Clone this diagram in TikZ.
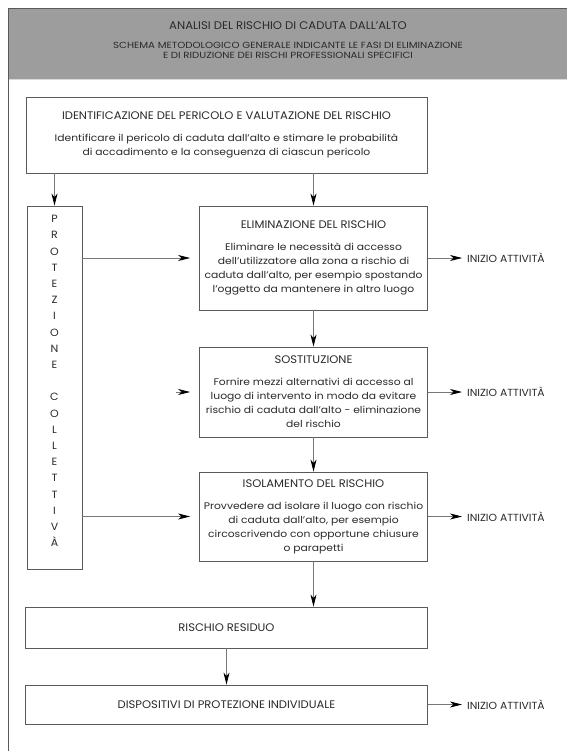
\documentclass[tikz,border=0pt]{standalone}
\usepackage{fontspec}
\setmainfont{Poppins}
\newfontfamily\bodyf{Poppins}[FakeStretch=1.12]
\newfontfamily\capf{Poppins}[FakeStretch=1.05]
\newfontfamily\subf{Poppins}[FakeStretch=1.15]
\usetikzlibrary{arrows.meta}
\definecolor{hdrfill}{HTML}{9D9D9D}
\definecolor{boxc}{HTML}{5A5A5A}
\definecolor{linec}{HTML}{777777}
\definecolor{txt}{HTML}{2A2A2A}
\newcommand{\boxtitle}[1]{{\capf\fontsize{11}{14}\selectfont #1}}
\begin{document}
\begin{tikzpicture}[x=1pt,y=-1pt,
  box/.style={draw=boxc, line width=0.9pt, inner sep=0pt, align=center, text=txt, font=\bodyf\fontsize{9.6}{14}\selectfont},
  capbox/.style={box, font=\capf\fontsize{11}{14}\selectfont},
  conn/.style={draw=linec, line width=0.8pt, -{Stealth[length=12pt,width=6pt,inset=3.5pt,black]}},
  inizio/.style={anchor=west, inner sep=0pt, text=txt, font=\capf\fontsize{10.3}{12}\selectfont},
  hdrtxt/.style={text=txt, inner sep=0pt, align=center}]
\useasboundingbox (0,0) rectangle (567,751);
\fill[white] (0,0) rectangle (567,751);
% header
\fill[hdrfill] (8,8) rectangle (567,79);
\draw[boxc, line width=1.2pt] (8,8.6) -- (567,8.6);
\draw[white!85!black, line width=0.8pt] (8,79) -- (567,79);
\draw[boxc, line width=1pt] (8.5,8) -- (8.5,751);
\node[hdrtxt, font=\capf\fontsize{11.1}{13}\selectfont] (htitle) at (288,25.5) {ANALISI DEL RISCHIO DI CADUTA DALL’ALTO};
\node[hdrtxt, font=\subf\fontsize{8.9}{10}\selectfont] (hsub) at (288,50.5) {SCHEMA METODOLOGICO GENERALE INDICANTE LE FASI DI ELIMINAZIONE\\E DI RIDUZIONE DEI RISCHI PROFESSIONALI SPECIFICI};
% boxes
\node[box, minimum width=401pt, minimum height=76pt] (ident) at (226.5,135)
  {\boxtitle{IDENTIFICAZIONE DEL PERICOLO E VALUTAZIONE DEL RISCHIO}\\[8pt]
   Identificare il pericolo di caduta dall’alto e stimare le probabilità\\
   di accadimento e la conseguenza di ciascun pericolo};
\node[box, minimum width=55pt, minimum height=363pt] (prot) at (54.5,387.5) {};
\node[text=txt, inner sep=0pt, align=center, font=\capf\fontsize{10.5}{16.2}\selectfont] (protlab) at (54.5,381)
  {P\\R\\O\\T\\E\\Z\\I\\O\\N\\E\\[16.2pt]C\\O\\L\\L\\E\\T\\T\\I\\V\\À};
\node[box, minimum width=228pt, minimum height=104pt] (elim) at (313.5,258)
  {\boxtitle{ELIMINAZIONE DEL RISCHIO}\\[8pt]
   Eliminare le necessità di accesso\\
   dell’utilizzatore alla zona a rischio di\\
   caduta dall’alto, per esempio spostando\\
   l’oggetto da mantenere in altro luogo};
\node[box, minimum width=228pt, minimum height=90pt] (sost) at (313.5,392)
  {\boxtitle{SOSTITUZIONE}\\[8pt]
   Fornire mezzi alternativi di accesso al\\
   luogo di intervento in modo da evitare\\
   rischio di caduta dall’alto - eliminazione\\
   del rischio};
\node[box, minimum width=228pt, minimum height=89pt] (isol) at (313.5,516.5)
  {\boxtitle{ISOLAMENTO DEL RISCHIO}\\[8pt]
   Provvedere ad isolare il luogo con rischio\\
   di caduta dall’alto, per esempio\\
   circoscrivendo con opportune chiusure\\
   o parapetti};
\node[capbox, minimum width=402pt, minimum height=41pt] (resid) at (226.5,627.5)
  {RISCHIO RESIDUO};
\node[capbox, minimum width=402pt, minimum height=39pt] (dpi) at (226.5,704.5)
  {DISPOSITIVI DI PROTEZIONE INDIVIDUALE};
% INIZIO ATTIVITA labels
\node[inizio] (i1) at (467,258) {INIZIO ATTIVITÀ};
\node[inizio] (i2) at (467,392) {INIZIO ATTIVITÀ};
\node[inizio] (i3) at (467,516.5) {INIZIO ATTIVITÀ};
\node[inizio] (i4) at (467,704.5) {INIZIO ATTIVITÀ};
\coordinate (sostin) at (176,392);
% connectors
\draw[conn] (ident.south -| prot.north) -- (prot.north);
\draw[conn] (ident.south -| elim.north) -- (elim.north);
\draw[conn, shorten >=9pt] (prot.east |- elim.west) -- (elim.west);
\draw[conn] (sostin) -- ([xshift=-9pt]sost.west);
\draw[conn, shorten >=9pt] (prot.east |- isol.west) -- (isol.west);
\draw[conn] (elim.south) -- (sost.north);
\draw[conn] (sost.south) -- (isol.north);
\draw[conn] (isol.south) -- (isol.south |- resid.north);
\draw[conn] (resid.south) -- (dpi.north);
\draw[conn, shorten >=5pt] (elim.east) -- (i1.west);
\draw[conn, shorten >=5pt] (sost.east) -- (i2.west);
\draw[conn, shorten >=5pt] (isol.east) -- (i3.west);
\draw[conn, shorten >=5pt] (dpi.east) -- (i4.west);
\end{tikzpicture}
\end{document}
